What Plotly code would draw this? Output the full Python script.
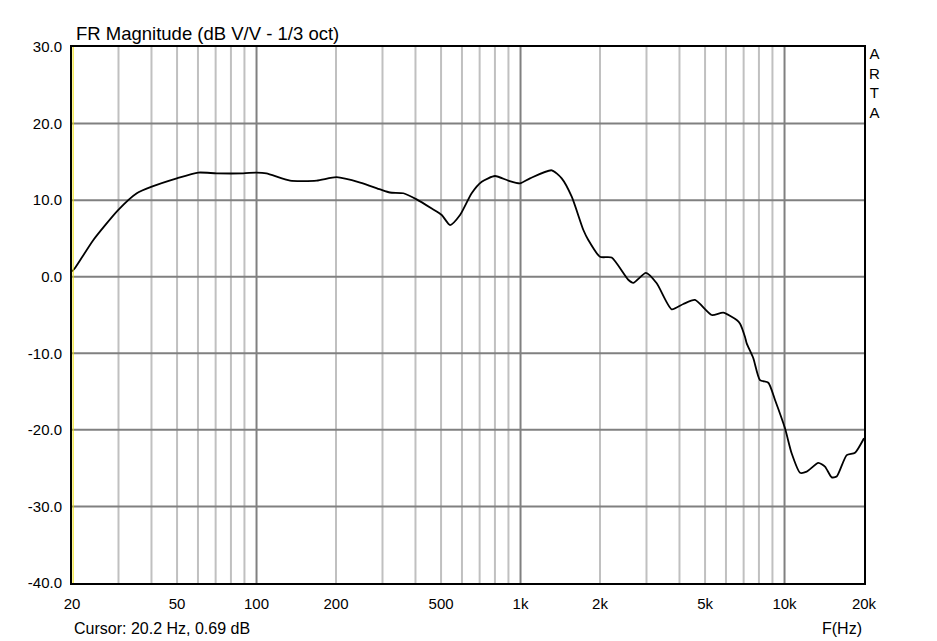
import plotly.graph_objects as go

# Frequency response data (Hz, dB)
freq = [20, 20.5, 24.1, 29.9, 35.2, 40.1, 49.9, 60.2, 70.6, 89, 100, 109, 134, 169, 201, 247,
        294, 320, 360, 404, 461, 503, 541, 590, 653, 713, 800, 899, 995, 1086, 1312, 1432,
        1563, 1730, 1806, 2000, 2214, 2559, 2674, 2986, 3280, 3738, 4137, 4581, 5298, 5861,
        6590, 6776, 7080, 7190, 7617, 8072, 8685, 9206, 10040, 10640, 11450, 12130, 13430,
        14230, 15090, 15760, 17200, 18490, 20000]
mag = [0.69, 1.1, 4.8, 8.7, 10.9, 11.76, 12.85, 13.6, 13.5, 13.5, 13.6, 13.5, 12.55, 12.55, 13.0, 12.3,
       11.4, 11.0, 10.9, 10.1, 8.9, 8.06, 6.75, 8.06, 10.9, 12.4, 13.15, 12.55, 12.2, 12.85, 13.9, 12.85,
       10.45, 6.1, 4.8, 2.6, 2.5, -0.4, -0.8, 0.5, -0.86, -4.26, -3.56, -3.04, -5.0, -4.7,
       -5.65, -6.1, -7.83, -8.7, -10.65, -13.5, -13.85, -16.1, -19.8, -23.06, -25.6, -25.46, -24.3,
       -24.8, -26.2, -26.1, -23.3, -23.0, -21.1]

x_tick_vals = [20, 50, 100, 200, 500, 1000, 2000, 5000, 10000, 20000]
x_tick_text = ["20", "50", "100", "200", "500", "1k", "2k", "5k", "10k", "20k"]
y_tick_vals = [30, 20, 10, 0, -10, -20, -30, -40]
y_tick_text = ["30.0", "20.0", "10.0", "0.0", "-10.0", "-20.0", "-30.0", "-40.0"]
major_grid = [100, 1000, 10000]
minor_grid = [30, 40, 50, 60, 70, 80, 90, 200, 300, 400, 500, 600, 700, 800, 900,
              2000, 3000, 4000, 5000, 6000, 7000, 8000, 9000]
cursor_f = 20.2

FONT = "Liberation Sans, Arial, sans-serif"

fig = go.Figure()
fig.add_trace(go.Scatter(x=freq, y=mag, mode="lines",
                         line=dict(color="black", width=1.8, shape="spline", smoothing=0.6),
                         hoverinfo="skip", showlegend=False))

shapes = []
for f in minor_grid:
    shapes.append(dict(type="line", xref="x", yref="paper", x0=f, x1=f, y0=0, y1=1,
                       line=dict(color="#c0c0c0", width=2), layer="below"))
for f in major_grid:
    shapes.append(dict(type="line", xref="x", yref="paper", x0=f, x1=f, y0=0, y1=1,
                       line=dict(color="#808080", width=2), layer="below"))
for v in y_tick_vals[1:-1]:
    shapes.append(dict(type="line", xref="paper", yref="y", x0=0, x1=1, y0=v, y1=v,
                       line=dict(color="#808080", width=2), layer="below"))
shapes.append(dict(type="line", xref="x", yref="paper", x0=cursor_f, x1=cursor_f, y0=0, y1=1,
                   line=dict(color="#f0e000", width=1)))

fig.update_layout(
    width=929, height=633,
    margin=dict(l=64, r=73, t=39, b=58),
    paper_bgcolor="white", plot_bgcolor="white",
    shapes=shapes,
    font=dict(family=FONT, size=15, color="black"),
    xaxis=dict(type="log", range=[1.30103, 4.30103], tickvals=x_tick_vals, ticktext=x_tick_text,
               showgrid=False, zeroline=False, showline=True, linecolor="black", linewidth=2,
               mirror=True, ticks="", ticklabelstandoff=6, tickfont=dict(size=15)),
    yaxis=dict(range=[-40, 30], tickvals=y_tick_vals, ticktext=y_tick_text,
               showgrid=False, zeroline=False, showline=True, linecolor="black", linewidth=2,
               mirror=True, ticks="", ticklabelstandoff=5, tickfont=dict(size=15)),
    annotations=[
        dict(text="FR Magnitude (dB V/V - 1/3 oct)", xref="paper", yref="paper", x=0.003, y=1.0,
             xanchor="left", yanchor="bottom", yshift=1, showarrow=False, font=dict(size=18.5)),
        dict(text="Cursor: 20.2 Hz, 0.69 dB", xref="paper", yref="paper", x=0, y=0,
             xanchor="left", yanchor="middle", yshift=-45, showarrow=False, font=dict(size=16)),
        dict(text="F(Hz)", xref="paper", yref="paper", x=1, y=0,
             xanchor="right", yanchor="middle", yshift=-45, showarrow=False, font=dict(size=16)),
        dict(text="A<br>R<br>T<br>A", xref="paper", yref="paper", x=1, y=1,
             xanchor="left", yanchor="top", xshift=3, yshift=4, showarrow=False,
             font=dict(size=15), align="center"),
    ],
)

fig.write_html("out.html")
